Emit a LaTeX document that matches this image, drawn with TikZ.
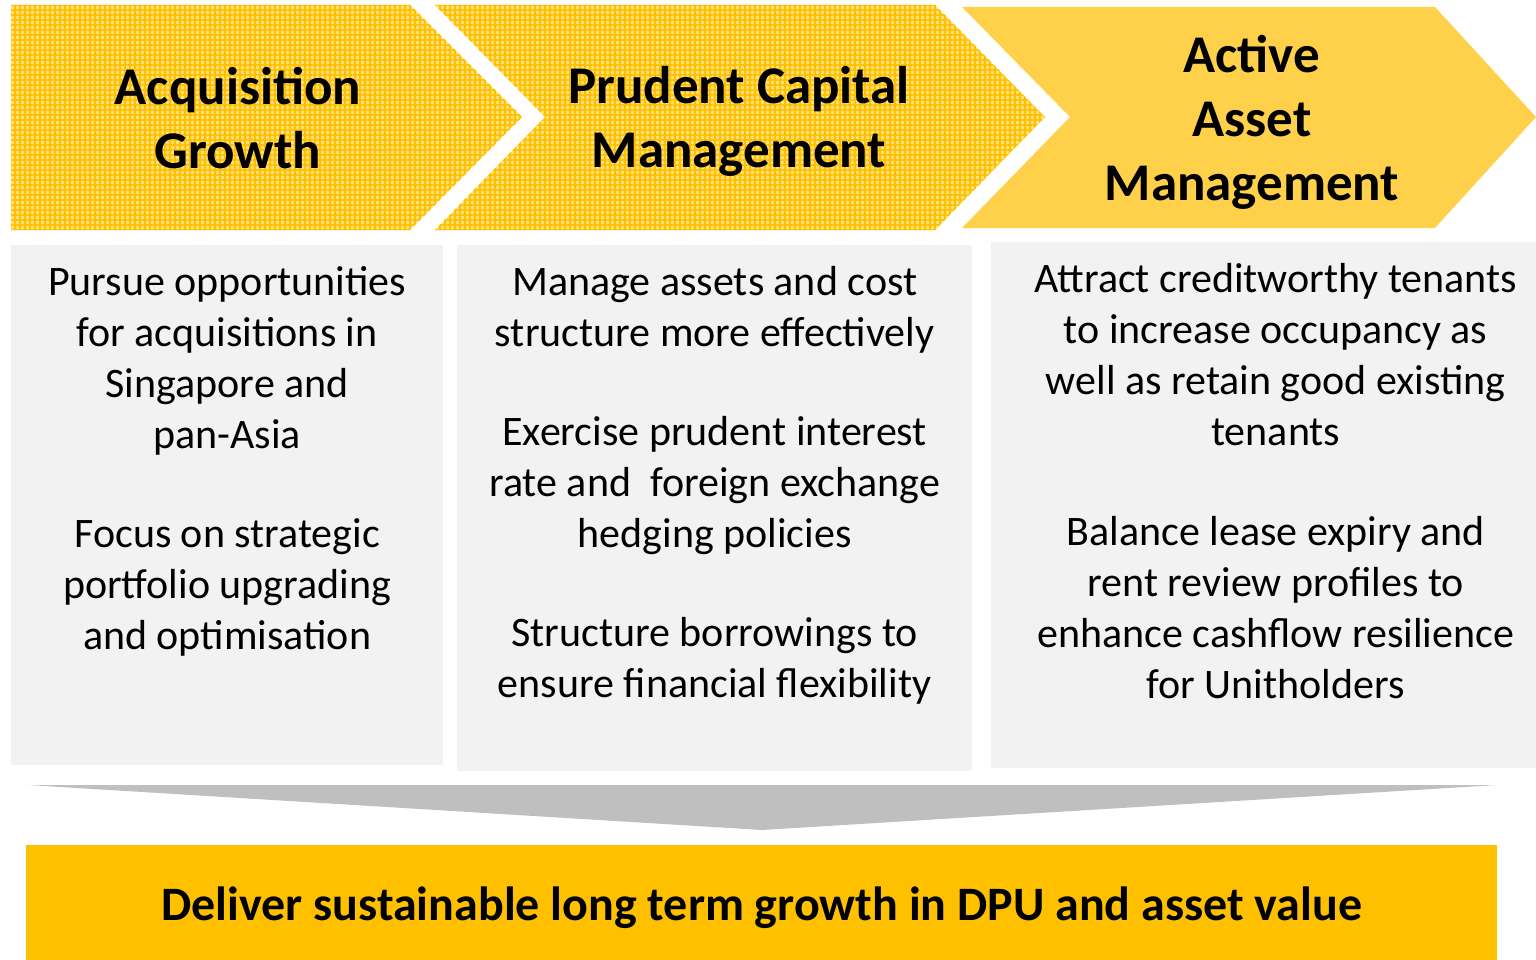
\documentclass[tikz,border=0pt]{standalone}
\usepackage{fontspec}
\setmainfont{Carlito}
\usepackage{tikz}
\usetikzlibrary{positioning, patterns.meta}
\definecolor{chevlight}{HTML}{FFE07A}
\definecolor{chevdark}{HTML}{FFC000}
\definecolor{chevsolid}{HTML}{FFD14B}
\definecolor{boxgrey}{HTML}{F2F2F2}
\definecolor{arrowgrey}{HTML}{BFBFBF}
\definecolor{goldbar}{HTML}{FFC000}
\tikzset{%
	chev/.style={fill=chevlight,%
		postaction={pattern={Lines[angle=0,distance=5pt,line width=1.2pt]}, pattern color=chevdark},%
		postaction={pattern={Lines[angle=90,distance=5pt,line width=1.2pt]}, pattern color=chevdark}},
	chevplain/.style={fill=chevsolid},
	headtext/.style={align=center, inner sep=0pt, font=\fontsize{53}{64}\selectfont\bfseries},
	box/.style={rectangle, fill=boxgrey, inner sep=0pt, anchor=north west},
	bodytext/.style={align=center, inner sep=0pt, font=\fontsize{42}{51}\selectfont},
	result/.style={rectangle, fill=goldbar, inner sep=0pt, anchor=north west},
	resulttext/.style={inner sep=0pt, font=\fontsize{48}{56}\selectfont\bfseries}
}

\begin{document}
\begin{tikzpicture}[x=1pt, y=-1pt]
	\useasboundingbox (0,0) rectangle (1536,960);

	% chevrons
	\path[chev] (11,5) -- (410,5) -- (522,117) -- (410,230) -- (11,230) -- cycle;
	\path[chev] (435,5) -- (935,5) -- (1045,117) -- (935,230) -- (435,230) -- (545,117) -- cycle;
	\path[chevplain] (962,7) -- (1435,7) -- (1536,117) -- (1435,228) -- (962,228) -- (1070,117) -- cycle;
	\node[headtext] (acq) at (238,118) {Acquisition\\Growth};
	\node[headtext] (cap) at (739,121) {Prudent Capital\\Management};
	\node[headtext] (act) at (1252,122) {Active\\Asset\\Management};

	% grey boxes
	\node[box, minimum width=432, minimum height=520] (b1) at (11,245) {};
	\node[box, minimum width=515, minimum height=526] (b2) at (457,245) {};
	\node[box, minimum width=545, minimum height=526] (b3) at (991,242) {};
	\node[bodytext, below=21pt of b1.north] (t1) {Pursue opportunities\\for acquisitions in\\Singapore and\\pan-Asia\\[48pt]Focus on strategic\\portfolio upgrading\\and optimisation};
	\node[bodytext, below=21pt of b2.north] (t2) {Manage assets and cost\\structure more effectively\\[48pt]Exercise prudent interest\\rate and~ foreign exchange\\hedging policies\\[48pt]Structure borrowings to\\ensure financial flexibility};
	\node[bodytext, below=21pt of b3.north, xshift=12] (t3) {Attract creditworthy tenants\\to increase occupancy as\\well as retain good existing\\tenants\\[49pt]Balance lease expiry and\\rent review profiles to\\enhance cashflow resilience\\for Unitholders};

	% merge arrow and result
	\fill[arrowgrey] (28,785) -- (1497,785) -- (762,830) -- cycle;
	\node[result, minimum width=1471, minimum height=115] (dpu) at (26,845) {};
	\node[resulttext] (dputext) at ([yshift=-5pt]dpu.center) {Deliver sustainable long term growth in DPU and asset value};
\end{tikzpicture}
\end{document}
